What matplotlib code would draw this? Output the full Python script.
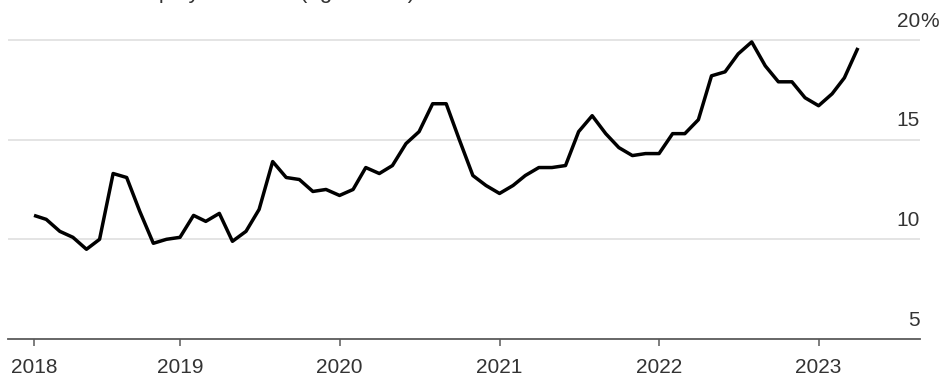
import matplotlib
matplotlib.use("Agg")
import matplotlib.pyplot as plt
import matplotlib.dates as mdates
import pandas as pd

plt.rcParams["font.family"] = ["Liberation Sans", "DejaVu Sans"]

# Monthly youth (16-24) unemployment rate, %, Jan 2018 - Mar 2023
months = pd.period_range("2018-01", "2023-03", freq="M").to_timestamp(how="end")
rate = [
    11.2, 11.0, 10.4, 10.1, 9.5, 10.0, 13.3, 13.1, 11.4, 9.8, 10.0, 10.1,   # 2018
    11.2, 10.9, 11.3, 9.9, 10.4, 11.5, 13.9, 13.1, 13.0, 12.4, 12.5, 12.2,  # 2019
    12.5, 13.6, 13.3, 13.7, 14.8, 15.4, 16.8, 16.8, 15.0, 13.2, 12.7, 12.3, # 2020
    12.7, 13.2, 13.6, 13.6, 13.7, 15.4, 16.2, 15.3, 14.6, 14.2, 14.3, 14.3, # 2021
    15.3, 15.3, 16.0, 18.2, 18.4, 19.3, 19.9, 18.7, 17.9, 17.9, 17.1, 16.7, # 2022
    17.3, 18.1, 19.6,                                                       # 2023
]
year_labels = ["2018", "2019", "2020", "2021", "2022", "2023"]
y_ticks = [5, 10, 15, 20]
title = "Youth unemployment rate (age 16-24)"

W, H = 941, 376
fig = plt.figure(figsize=(W / 100, H / 100), dpi=100)
ax = fig.add_axes([8 / W, 1 - 339 / H, 912 / W, (339 - 20) / H])

x = mdates.date2num(months)
ax.plot(x, rate, color="black", lw=2.5, solid_joinstyle="round",
        solid_capstyle="butt", zorder=3)

# x range: a little room before the first point and after the last
ax.set_xlim(x[0] - 59.5, x[0] + 2027)
ax.set_ylim(5, 21)

# horizontal gridlines
for v in y_ticks[1:]:
    ax.axhline(v, color="#e2e2e2", lw=1.3, zorder=1)

for side in ("top", "right", "left"):
    ax.spines[side].set_visible(False)
ax.spines["bottom"].set_color("#5a5a5a")
ax.spines["bottom"].set_linewidth(1.3)

# year ticks: first label at the start of the series, others at Jan 1
tick_pos = [x[0]] + [mdates.date2num(pd.Timestamp(f"{y}-01-01")) for y in year_labels[1:]]
ax.set_xticks(tick_pos)
ax.set_xticklabels(year_labels)
ax.tick_params(axis="x", length=5, width=1.1, color="#5a5a5a", pad=8.5,
               labelsize=15, labelcolor="#333333")
ax.set_yticks([])

# value labels sitting above each gridline at the right edge
ytrans = ax.get_yaxis_transform()
for v in y_ticks:
    ax.annotate(str(v), xy=(1, v), xycoords=ytrans, xytext=(0, 9.5),
                textcoords="offset points", ha="right", va="baseline",
                fontsize=15, color="#333333", annotation_clip=False)
ax.annotate("%", xy=(1, y_ticks[-1]), xycoords=ytrans, xytext=(0, 9.5),
            textcoords="offset points", ha="left", va="baseline",
            fontsize=15, color="#333333", annotation_clip=False)

# chart subtitle running off the top edge
fig.text(41 / W, 1 + 2.5 / H, title, ha="left", va="baseline",
         fontsize=16, color="#333333")

fig.savefig("out.png", dpi=100)
